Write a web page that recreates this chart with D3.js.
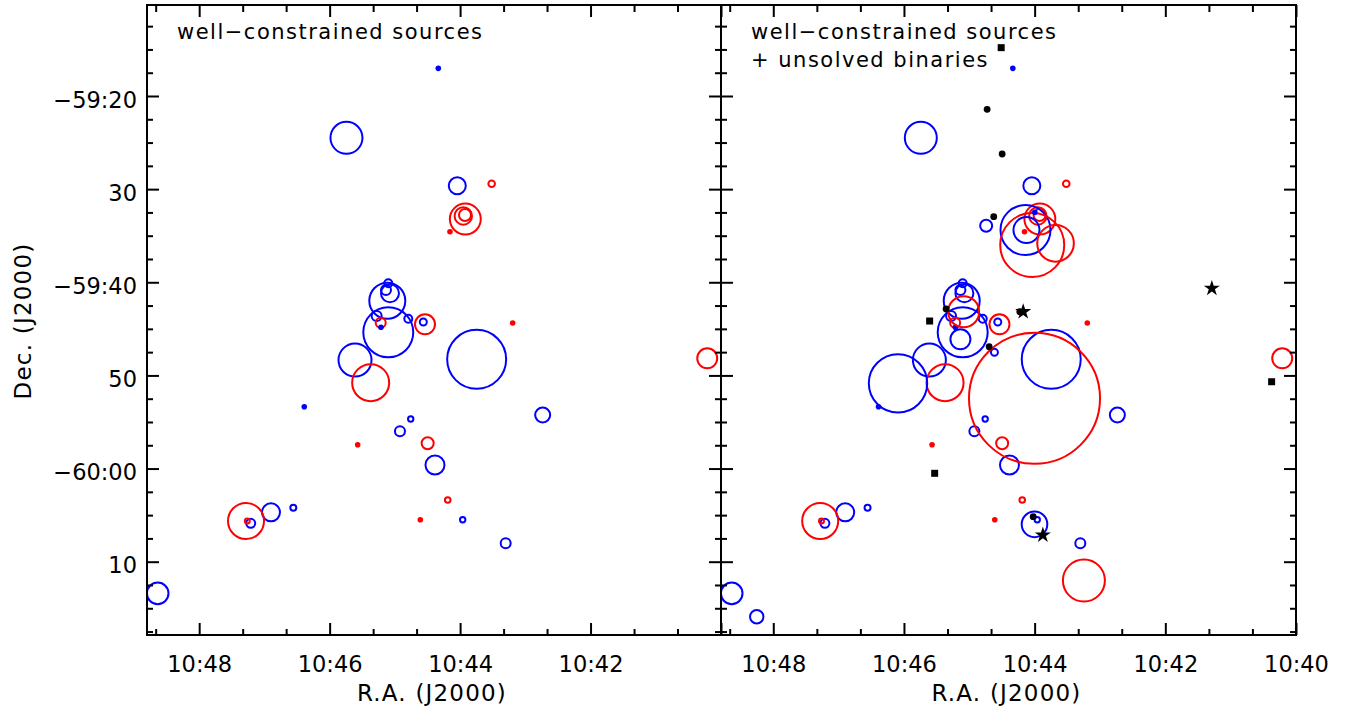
<!DOCTYPE html>
<html><head><meta charset="utf-8">
<script src="https://cdn.jsdelivr.net/npm/d3@7"></script>
<style>body{margin:0;background:#fff}svg{display:block}text{font-family:"DejaVu Sans",sans-serif;fill:#000}</style>
</head><body><svg id="c" width="1353" height="709"></svg>
<script>
// RA in minutes of time after 10h (44.0 = 10:44), Dec in arcmin south of -59°00' (30 = -59:30)
// radius in arcmin (Dec units)
const raMajor = [48, 46, 44, 42, 40];
const raMajorLabels = ["10:48", "10:46", "10:44", "10:42", "10:40"];
const raMinor = [48.667, 47.333, 46.667, 45.333, 44.667, 43.333, 42.667, 41.333, 40.667];
const decMajor = [20, 30, 40, 50, 60, 70];
const decMajorLabels = ["\u221259:20", "30", "\u221259:40", "50", "\u221260:00", "10"];
const decMinor = [12.5, 15, 17.5, 22.5, 25, 27.5, 32.5, 35, 37.5, 42.5, 45, 47.5, 52.5, 55, 57.5, 62.5, 65, 67.5, 72.5, 75, 77.5];
const panelTitles = [["well\u2212constrained sources"], ["well\u2212constrained sources", "+ unsolved binaries"]];

// well-constrained sources: [ra, dec, radius]
const blueCircles = [
 [45.742,24.49,1.718],[44.043,29.63,0.913],[45.101,40.11,0.429],[45.136,40.83,0.537],
 [45.075,41.18,0.966],[45.116,41.98,1.933],[45.279,43.62,0.537],[45.101,45.37,2.684],
 [44.794,43.91,0.429],[44.564,44.27,0.376],[43.746,48.27,3.167],[45.611,48.35,1.772],
 [42.734,54.25,0.805],[44.757,54.68,0.29],[44.922,56.00,0.537],[44.385,59.62,1.02],
 [43.960,65.49,0.29],[43.301,68.03,0.537],[47.210,65.88,0.483],[46.899,64.70,0.966],
 [46.557,64.20,0.322],[48.636,73.40,1.16]];
const redCircles = [
 [43.516,29.42,0.354],[43.92,33.21,1.66],[43.951,32.88,0.934],[43.925,32.78,0.644],
 [45.217,44.34,0.537],[44.538,44.51,1.074],[45.371,50.78,1.986],[40.211,48.16,1.074],
 [44.497,57.29,0.644],[44.19,63.38,0.30],[47.282,65.63,1.933],[47.262,65.63,0.268]];
const blueDots = [[44.334,17.03],[45.213,44.83],[46.389,53.36]];
const redDots = [[44.155,34.57],[43.194,44.37],[45.57,57.44],[44.61,65.49]];

// unsolved binaries (right panel only)
const binBlueCircles = [
 [44.742,33.93,0.644],[45.136,46.12,1.074],[44.615,47.52,0.376],[46.091,50.85,3.135],
 [44.002,65.99,1.374],[48.253,75.91,0.72],[44.14,34.39,2.684],[44.125,34.39,1.396]];
const binRedCircles = [
 [45.086,43.16,1.664],[44.002,52.46,7.033],[43.246,72.02,2.255],[44.037,36.00,3.436],[43.68,35.82,1.965]];
const binBlueDots = [[43.997,32.49]];
const binSquares = [[44.512,14.81],[45.607,44.16],[45.53,60.51],[40.373,50.68]];
const binDots = [[44.727,21.43],[44.497,26.23],[44.626,32.96],[45.355,42.87],[44.227,43.16],[44.696,46.92],[44.022,65.17]];
const binStars = [[44.175,43.16],[43.874,67.14],[41.288,40.65]];

const BLUE = "#0000ff", RED = "#ff0000";
const svg = d3.select("#c");
const yTop = 5, yBot = 635;
const y = d3.scaleLinear().domain([10.23, 77.87]).range([yTop, yBot]);
const pxPerArcmin = Math.abs(y(1) - y(0));

const panels = [
  {x0: 147, x1: 721, extras: false, labelMask: [1,1,1,1,0], yLabels: true},
  {x0: 721, x1: 1296, extras: true, labelMask: [1,1,1,1,1], yLabels: false}
];

panels.forEach((p, i) => {
  const x = d3.scaleLinear().domain([48.8, 40]).range([p.x0, p.x1]);
  const g = svg.append("g");
  const cid = "clip" + i;
  svg.append("clipPath").attr("id", cid).append("rect")
    .attr("x", p.x0).attr("y", yTop).attr("width", p.x1 - p.x0).attr("height", yBot - yTop);
  const plot = g.append("g").attr("clip-path", `url(#${cid})`);

  function circles(data, color) {
    plot.selectAll(null).data(data).enter().append("circle")
      .attr("cx", d => x(d[0])).attr("cy", d => y(d[1])).attr("r", d => d[2] * pxPerArcmin)
      .attr("fill", "none").attr("stroke", color).attr("stroke-width", 2);
  }
  function dots(data, color, r) {
    plot.selectAll(null).data(data).enter().append("circle")
      .attr("cx", d => x(d[0])).attr("cy", d => y(d[1])).attr("r", r).attr("fill", color);
  }
  circles(blueCircles, BLUE);
  circles(redCircles, RED);
  dots(blueDots, BLUE, 2.8);
  dots(redDots, RED, 2.8);
  if (p.extras) {
    circles(binBlueCircles, BLUE);
    circles(binRedCircles, RED);
    dots(binBlueDots, BLUE, 2.8);
    dots(binDots, "#000", 3.4);
    plot.selectAll(null).data(binSquares).enter().append("path")
      .attr("transform", d => `translate(${x(d[0])},${y(d[1])})`)
      .attr("d", d3.symbol(d3.symbolSquare, 49)).attr("fill", "#000");
    plot.selectAll(null).data(binStars).enter().append("path")
      .attr("transform", d => `translate(${x(d[0])},${y(d[1])})`)
      .attr("d", d3.symbol(d3.symbolStar, 80)).attr("fill", "#000");
  }

  const styleAxis = a => { a.select(".domain").remove(); a.selectAll("line").attr("stroke", "#000").attr("stroke-width", 2); };
  const bMaj = g.append("g").attr("transform", `translate(0,${yBot})`)
    .call(d3.axisBottom(x).tickValues(raMajor).tickSize(-12).tickPadding(21)
      .tickFormat((d, k) => p.labelMask[k] ? raMajorLabels[k] : ""));
  styleAxis(bMaj);
  bMaj.selectAll("text").attr("font-size", 22.5).attr("font-family", "DejaVu Sans, sans-serif");
  const bMin = g.append("g").attr("transform", `translate(0,${yBot})`)
    .call(d3.axisBottom(x).tickValues(raMinor).tickSize(-6).tickFormat(""));
  styleAxis(bMin);
  const tMaj = g.append("g").attr("transform", `translate(0,${yTop})`)
    .call(d3.axisTop(x).tickValues(raMajor).tickSize(-12).tickFormat(""));
  styleAxis(tMaj);
  const tMin = g.append("g").attr("transform", `translate(0,${yTop})`)
    .call(d3.axisTop(x).tickValues(raMinor).tickSize(-7).tickFormat(""));
  styleAxis(tMin);
  const lMaj = g.append("g").attr("transform", `translate(${p.x0},0)`)
    .call(d3.axisLeft(y).tickValues(decMajor).tickSize(-12).tickPadding(10)
      .tickFormat((d, k) => p.yLabels ? decMajorLabels[k] : ""));
  styleAxis(lMaj);
  lMaj.selectAll("text").attr("font-size", 22.5).attr("dy", "0.5em").attr("font-family", "DejaVu Sans, sans-serif");
  const lMin = g.append("g").attr("transform", `translate(${p.x0},0)`)
    .call(d3.axisLeft(y).tickValues(decMinor).tickSize(-6).tickFormat(""));
  styleAxis(lMin);
  const rMaj = g.append("g").attr("transform", `translate(${p.x1},0)`)
    .call(d3.axisRight(y).tickValues(decMajor).tickSize(-12).tickFormat(""));
  styleAxis(rMaj);
  const rMin = g.append("g").attr("transform", `translate(${p.x1},0)`)
    .call(d3.axisRight(y).tickValues(decMinor).tickSize(-6).tickFormat(""));
  styleAxis(rMin);

  g.append("rect").attr("x", p.x0).attr("y", yTop).attr("width", p.x1 - p.x0).attr("height", yBot - yTop)
    .attr("fill", "none").attr("stroke", "#000").attr("stroke-width", 2);

  panelTitles[i].forEach((t, k) => {
    g.append("text").attr("x", p.x0 + 30).attr("y", 39 + k * 28).attr("font-size", 21)
      .attr("letter-spacing", "1.5px").text(t);
  });
  g.append("text").attr("x", (p.x0 + p.x1) / 2 - 2).attr("y", 701).attr("text-anchor", "middle")
    .attr("font-size", 23).attr("letter-spacing", "1.2px").text("R.A. (J2000)");
});

svg.append("text").attr("transform", "translate(31,321) rotate(-90)").attr("text-anchor", "middle")
  .attr("font-size", 23).attr("letter-spacing", "1.2px").text("Dec. (J2000)");
</script></body></html>
